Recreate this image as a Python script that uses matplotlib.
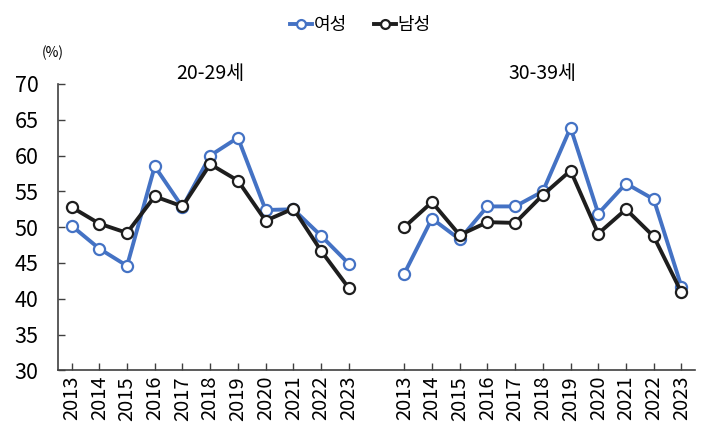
import matplotlib
matplotlib.use('Agg')
import matplotlib.pyplot as plt

plt.rcParams['font.family'] = ['Noto Sans CJK KR', 'DejaVu Sans']

years = ['2013', '2014', '2015', '2016', '2017', '2018', '2019', '2020', '2021', '2022', '2023']
groups = ['20-29세', '30-39세']

female_20s = [50.2, 47.0, 44.6, 58.5, 52.8, 60.0, 62.5, 52.4, 52.5, 48.8, 44.9]
male_20s = [52.8, 50.5, 49.2, 54.3, 52.9, 58.8, 56.5, 50.9, 52.6, 46.7, 41.5]
female_30s = [43.5, 51.2, 48.3, 52.9, 52.9, 55.0, 63.9, 51.9, 56.1, 53.9, 41.7]
male_30s = [50.0, 53.5, 48.9, 50.7, 50.6, 54.5, 57.9, 49.1, 52.5, 48.7, 40.9]

BLUE = '#4472C4'
BLACK = '#1E1E1E'
AXIS = '#404040'

fig = plt.figure(figsize=(7.1, 4.42), dpi=100)
ax = fig.add_axes([0.0813, 0.162, 0.898, 0.648])

n = len(years)
x1 = list(range(n))
x2 = [i + n + 1 for i in range(n)]

style = dict(lw=2.8, marker='o', ms=8, mfc='white', mew=1.6, zorder=3)
ax.plot(x1, female_20s, color=BLUE, label='여성', **style)
ax.plot(x2, female_30s, color=BLUE, **style)
ax.plot(x1, male_20s, color=BLACK, label='남성', **style)
ax.plot(x2, male_30s, color=BLACK, **style)

ax.set_xlim(-0.5, 2 * n + 0.5)
ax.set_ylim(30, 70)
ax.set_yticks(range(30, 71, 5))
ax.set_xticks(x1 + x2)
ax.set_xticklabels(years + years, rotation=90)
ax.tick_params(axis='both', direction='in', length=5, width=1, color=AXIS)
ax.tick_params(axis='x', labelsize=14.5, pad=4)
ax.tick_params(axis='y', labelsize=15.5, pad=14)

for s in ['top', 'right']:
    ax.spines[s].set_visible(False)
for s in ['left', 'bottom']:
    ax.spines[s].set_color(AXIS)
    ax.spines[s].set_linewidth(1.2)

ax.text(5, 71.4, groups[0], ha='center', va='center', fontsize=14)
ax.text(n + 1 + 5, 71.4, groups[1], ha='center', va='center', fontsize=14)
fig.text(0.0746, 0.88, '(%)', ha='center', va='center', fontsize=10)

ax.legend(loc='center', bbox_to_anchor=(0.508, 0.943), bbox_transform=fig.transFigure,
          ncol=2, frameon=False, fontsize=13, handlelength=1.2, handletextpad=0.1,
          columnspacing=1.5, markerscale=0.8)

fig.savefig('out.png', dpi=100)
